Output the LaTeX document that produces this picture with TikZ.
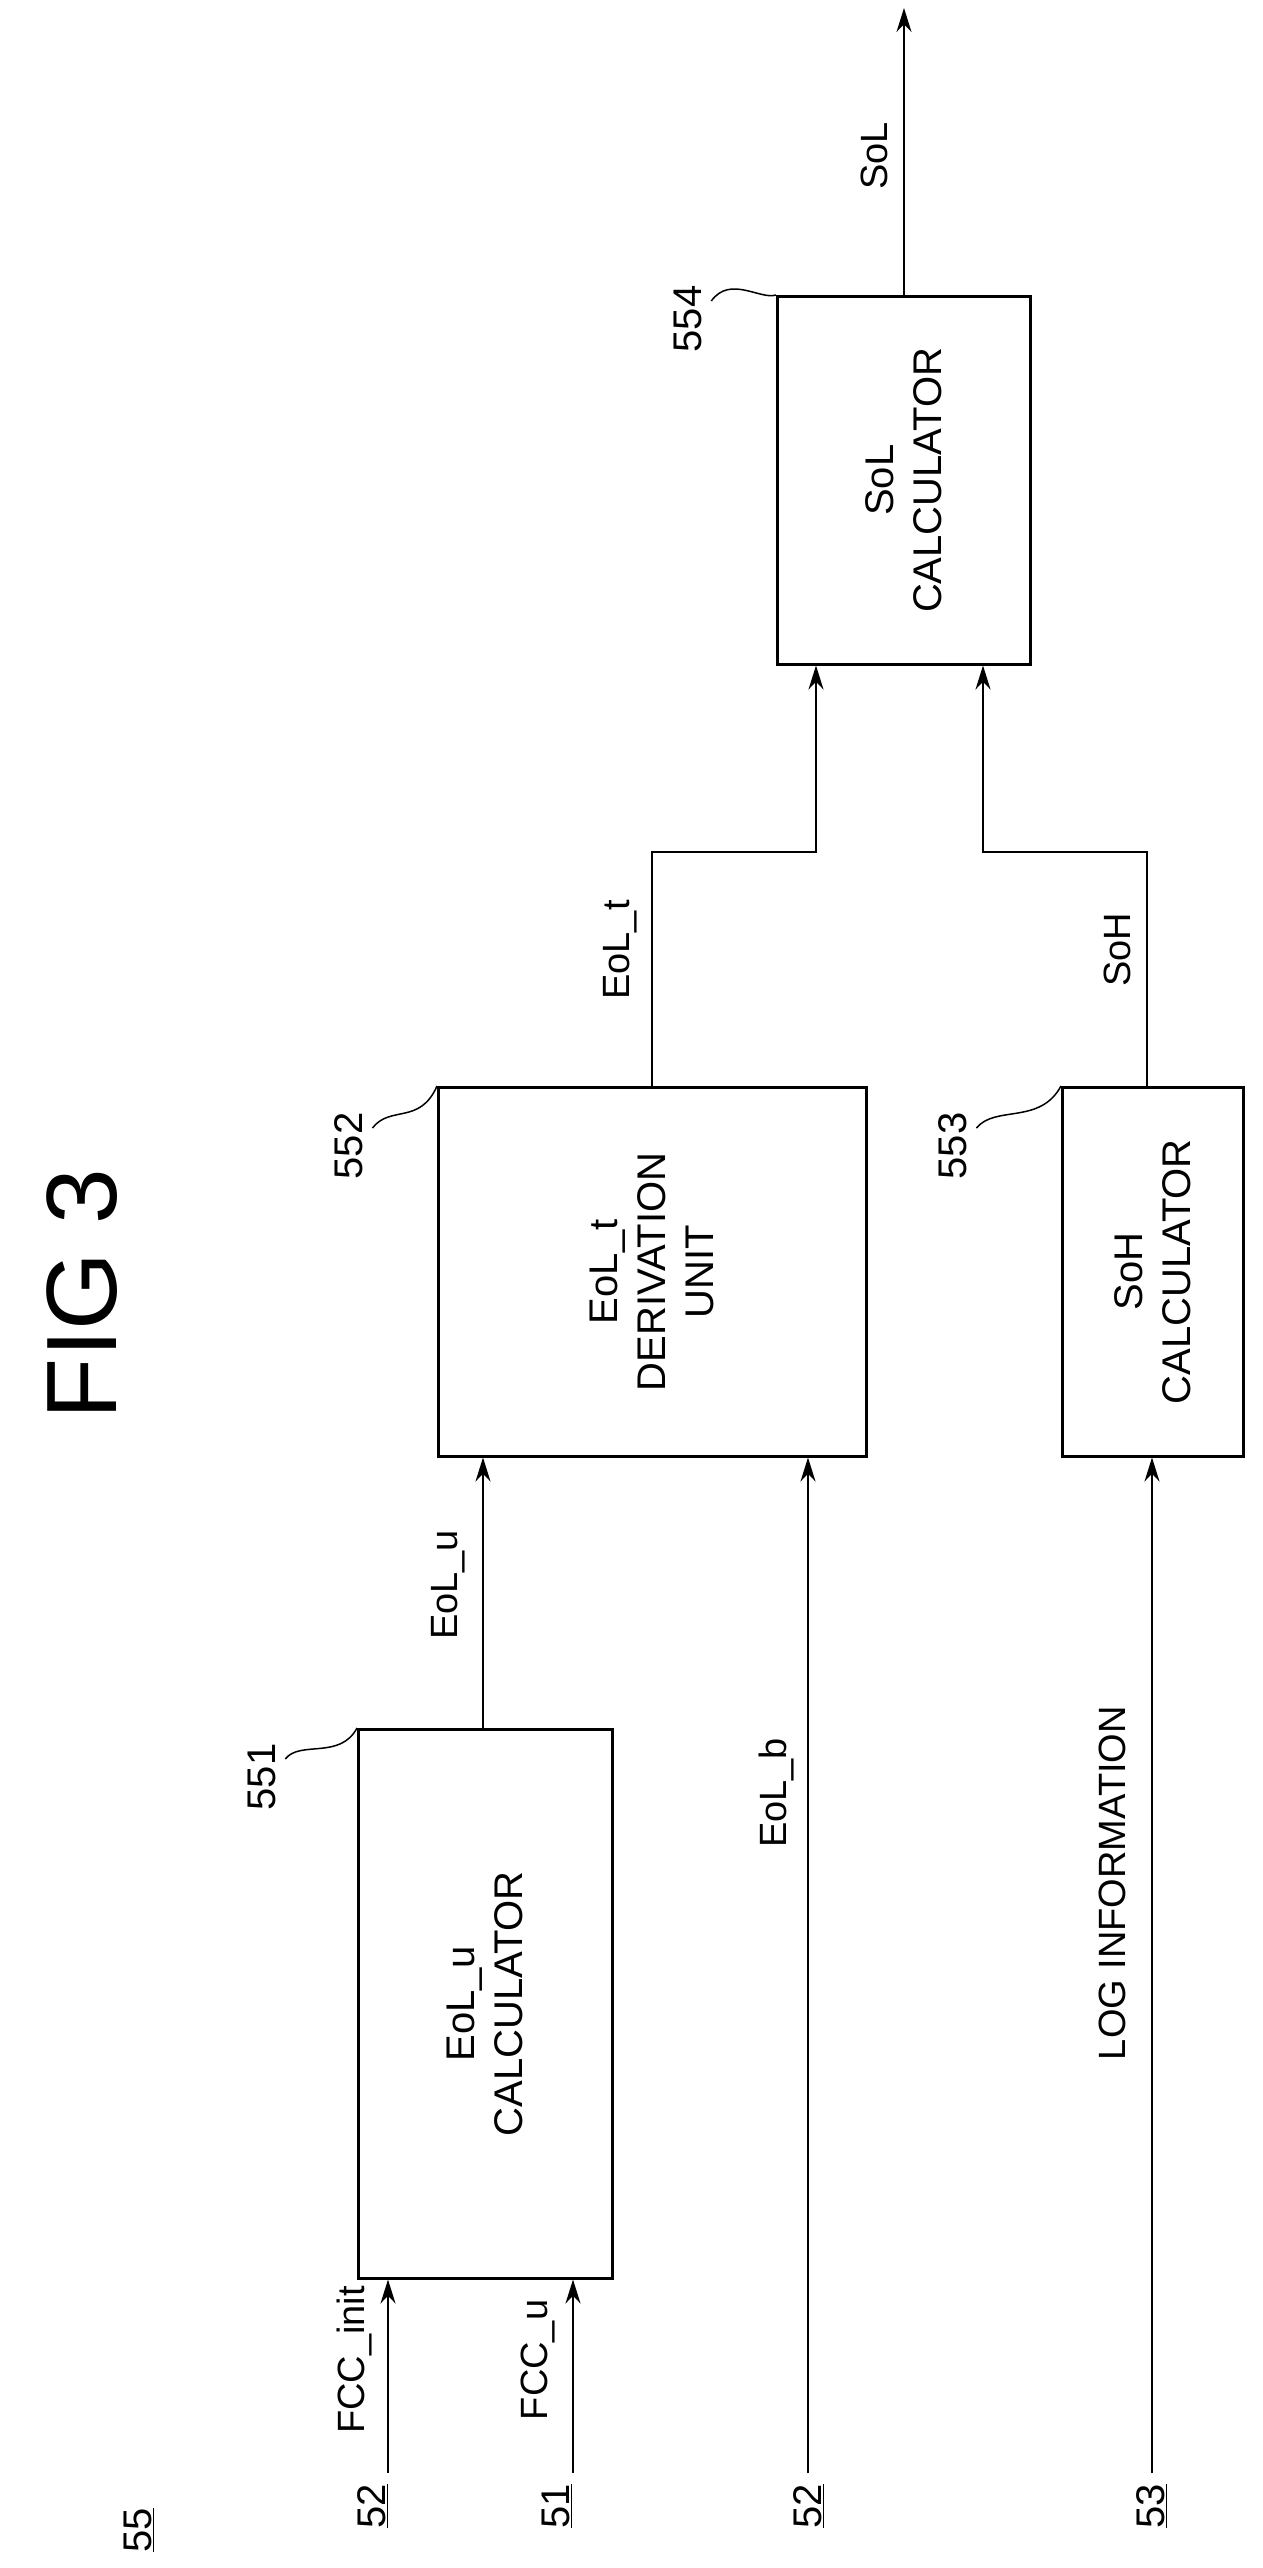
\documentclass[tikz,border=0pt]{standalone}
\usepackage{fontspec}
\setmainfont{Liberation Sans}
\usetikzlibrary{arrows.meta}
\begin{document}
\begin{tikzpicture}[x=1pt,y=-1pt,line width=2pt,
  box/.style={draw,line width=2.5pt},
  lbl/.style={rotate=90,font=\fontsize{38}{42}\selectfont},
  intxt/.style={rotate=90,align=center,font=\fontsize{40}{48}\selectfont},
  arr/.style={-{Stealth[length=24pt,width=15pt]}},
  ul/.style={rotate=90,font=\fontsize{40}{44}\selectfont}]
\useasboundingbox (0,0) rectangle (1263,2568);
\node[box,minimum width=254pt,minimum height=549pt,anchor=north west] (b551) at (357,1728) {};
\node[box,minimum width=428pt,minimum height=369pt,anchor=north west] (b552) at (437,1086) {};
\node[box,minimum width=181pt,minimum height=369pt,anchor=north west] (b553) at (1061,1086) {};
\node[box,minimum width=253pt,minimum height=368pt,anchor=north west] (b554) at (776,295) {};
\node[intxt] (t551) at (b551.center) {EoL\_u\\CALCULATOR};
\node[intxt] (t552) at (b552.center) {EoL\_t\\DERIVATION\\UNIT};
\node[intxt] (t553) at (b553.center) {SoH\\CALCULATOR};
\node[intxt] (t554) at (b554.center) {SoL\\CALCULATOR};
\node[font=\fontsize{100}{100}\selectfont,rotate=90] (fig) at (82,1294) {FIG 3};
% inputs
\coordinate (i1) at (388,2473); \coordinate (i2) at (573,2473);
\coordinate (i3) at (808,2473); \coordinate (i4) at (1152,2473);
\draw[arr] (i1) -- (i1 |- b551.south);
\draw[arr] (i2) -- (i2 |- b551.south);
\draw[arr] (i3) -- (i3 |- b552.south);
\draw[arr] (i4) -- (i4 |- b553.south);
\coordinate (u) at (483,1728);
\draw[arr] (u) -- (u |- b552.south);
\coordinate (t1) at (652,1086); \coordinate (t2) at (652,852); \coordinate (t3) at (816,852);
\draw[arr] (t1) -- (t2) -- (t3) -- (t3 |- b554.south);
\coordinate (h1) at (1147,1086); \coordinate (h2) at (1147,852); \coordinate (h3) at (983,852);
\draw[arr] (h1) -- (h2) -- (h3) -- (h3 |- b554.south);
\coordinate (o1) at (904,295); \coordinate (o2) at (904,8);
\draw[arr] (o1) -- (o2);
% labels
\node[lbl] (l1) at (355,2360) {FCC\_init};
\node[lbl] (l2) at (538,2360) {FCC\_u};
\node[lbl] (l3) at (776,1793) {EoL\_b};
\node[lbl] (l4) at (1112,1883) {LOG INFORMATION};
\node[lbl] (l5) at (448,1585) {EoL\_u};
\node[lbl] (l6) at (620,950) {EoL\_t};
\node[lbl] (l7) at (1117,950) {SoH};
\node[lbl] (l8) at (874,156) {SoL};
\node[ul] (n1) at (373,2506) {\underline{52}};
\node[ul] (n2) at (557,2506) {\underline{51}};
\node[ul] (n3) at (809,2506) {\underline{52}};
\node[ul] (n4) at (1152,2506) {\underline{53}};
\node[ul] (n5) at (139,2530) {\underline{55}};
\node[ul] (r1) at (262,1777) {551};
\node[ul] (r2) at (349,1146) {552};
\node[ul] (r3) at (953,1146) {553};
\node[ul] (r4) at (688,319) {554};
\draw[line width=1.5pt] (r1.south) ++(5,-18) .. controls (300,1740) and (340,1760) .. (b551.north west);
\draw[line width=1.5pt] (r2.south) ++(5,-18) .. controls (390,1105) and (420,1125) .. (b552.north west);
\draw[line width=1.5pt] (r3.south) ++(5,-18) .. controls (995,1105) and (1040,1125) .. (b553.north west);
\draw[line width=1.5pt] (r4.south) ++(5,-18) .. controls (730,275) and (760,300) .. (b554.north west);
\end{tikzpicture}
\end{document}
